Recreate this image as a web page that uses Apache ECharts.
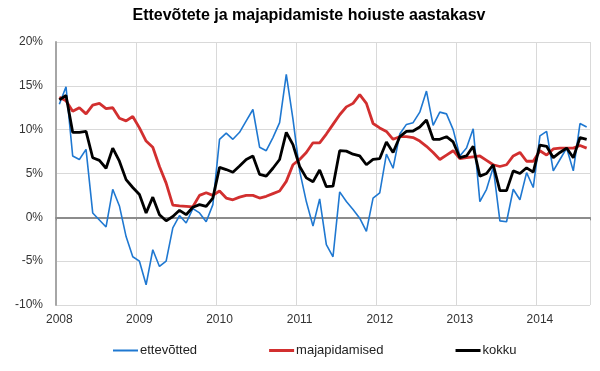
<!DOCTYPE html>
<html>
<head>
<meta charset="utf-8">
<script src="https://cdn.jsdelivr.net/npm/echarts@6/dist/echarts.min.js"></script>
<style>html,body{margin:0;padding:0;background:#fff}#c{width:600px;height:371px}</style>
</head>
<body>
<div id="c"></div>
<script>
var startYear = 2008;
var monthCount = 80; // 2008-01 .. 2014-08
var yTicks = [-10, -5, 0, 5, 10, 15, 20];

var ettevotted = [
  12.9, 14.9, 7.0, 6.6, 7.75, 0.5, -0.3, -1.1, 3.2, 1.3, -2.2, -4.5,
  -5.0, -7.7, -3.7, -5.6, -5.0, -1.2, 0.2, -0.65, 1.0, 0.5, -0.5, 1.45,
  8.9, 9.6, 8.9, 9.7, 11.0, 12.3, 8.0, 7.6, 9.1, 10.8, 16.3, 11.2,
  5.3, 1.8, -1.0, 2.1, -3.1, -4.5, 2.9, 1.8, 0.9, -0.1, -1.6, 2.2,
  2.8, 7.2, 5.6, 9.5, 10.6, 10.8, 12.0, 14.4, 10.5, 12.0, 11.8, 10.0,
  7.0, 7.9, 10.1, 1.8, 3.2, 5.7, -0.4, -0.5, 3.2, 2.0, 5.1, 3.4,
  9.3, 9.8, 5.3, 6.6, 7.9, 5.3, 10.7, 10.3
];
var majapidamised = [
  13.7, 13.3, 12.1, 12.5, 11.8, 12.8, 13.0, 12.4, 12.5, 11.3, 11.0, 11.5,
  10.2, 8.7, 8.0, 5.8, 3.9, 1.4, 1.3, 1.25, 1.2, 2.5, 2.8, 2.5,
  3.0, 2.2, 2.0, 2.3, 2.5, 2.5, 2.2, 2.4, 2.7, 3.0, 4.1, 6.0,
  6.6, 7.4, 8.5, 8.5, 9.5, 10.6, 11.7, 12.6, 13.0, 14.0, 13.0, 10.7,
  10.2, 9.8, 8.9, 9.2, 9.2, 9.1, 8.7, 8.1, 7.4, 6.6, 7.1, 7.6,
  6.7, 6.8, 6.9, 7.0, 6.5, 6.0, 5.8, 6.0, 7.0, 7.4, 6.4, 6.4,
  7.6, 7.1, 7.8, 7.9, 7.9, 7.9, 8.2, 7.9
];
var kokku = [
  13.4, 13.9, 9.7, 9.7, 9.8, 6.8, 6.5, 5.6, 7.9, 6.4, 4.3, 3.4,
  2.6, 0.5, 2.3, 0.3, -0.4, 0.1, 0.8, 0.3, 1.15, 1.45, 1.25, 2.2,
  5.7, 5.45, 5.15, 5.85, 6.6, 7.0, 4.9, 4.7, 5.6, 6.6, 9.7, 8.3,
  5.8, 4.5, 4.05, 5.4, 3.5, 3.55, 7.6, 7.55, 7.2, 7.0, 6.0, 6.6,
  6.7, 8.6, 7.4, 9.2, 9.8, 9.85, 10.3, 11.1, 8.9, 8.9, 9.2, 8.6,
  6.8, 7.0, 8.1, 4.7, 5.0, 6.0, 3.05, 3.05, 5.3, 5.0, 5.65, 5.15,
  8.25, 8.1, 6.8, 7.4, 7.9, 6.8, 9.1, 8.9
];
var seriesNames = ['ettevõtted', 'majapidamised', 'kokku'];

var months = [];
for (var i = 0; i < monthCount; i++) {
  var y = startYear + Math.floor(i / 12);
  var m = (i % 12) + 1;
  months.push(y + '-' + (m < 10 ? '0' + m : m));
}

var chart = echarts.init(document.getElementById('c'), null, {renderer: 'canvas'});
var font = 'Liberation Sans, Arial, sans-serif';
chart.setOption({
  animation: false,
  backgroundColor: '#fff',
  title: {
    text: 'Ettevõtete ja majapidamiste hoiuste aastakasv',
    left: 309,
    top: 8,
    textAlign: 'center',
    padding: 0,
    textStyle: {fontFamily: font, fontSize: 16, fontWeight: 'bold', color: '#000'}
  },
  legend: {
    left: 108,
    top: 339,
    itemGap: 72,
    itemWidth: 25,
    itemHeight: 14,
    textStyle: {fontFamily: font, fontSize: 13, color: '#222', padding: [0, 0, 0, -3]},
    data: [
      {name: seriesNames[0], icon: 'path://M0,0 L25,0 L25,2 L0,2 Z'},
      {name: seriesNames[1], icon: 'path://M0,0 L25,0 L25,3 L0,3 Z'},
      {name: seriesNames[2], icon: 'path://M0,0 L25,0 L25,3 L0,3 Z'}
    ]
  },
  grid: {left: 56, right: 10, top: 42, bottom: 66, containLabel: false},
  xAxis: [{
    type: 'category',
    data: months,
    boundaryGap: true,
    position: 'bottom',
    axisLine: {show: false, onZero: false},
    axisTick: {show: false},
    axisLabel: {
      interval: 11,
      margin: 9,
      fontFamily: font, fontSize: 12, color: '#333',
      formatter: function (v) { return v.slice(0, 4); }
    },
    splitLine: {show: true, interval: 11, lineStyle: {color: '#d9d9d9', width: 1}}
  }, {
    type: 'category',
    data: months,
    boundaryGap: true,
    position: 'top',
    axisLine: {show: true, onZero: true, lineStyle: {color: '#8c8c8c', width: 2}},
    axisTick: {show: true, interval: 11, inside: true, length: 3, lineStyle: {color: '#8c8c8c'}},
    axisLabel: {show: false},
    splitLine: {show: false}
  }],
  yAxis: {
    type: 'value',
    min: yTicks[0],
    max: yTicks[yTicks.length - 1],
    interval: 5,
    axisLine: {show: true, lineStyle: {color: '#a6a6a6', width: 2}},
    axisTick: {show: false},
    axisLabel: {
      margin: 13,
      fontFamily: font, fontSize: 12, color: '#333',
      formatter: '{value}%'
    },
    splitLine: {show: true, lineStyle: {color: '#d9d9d9', width: 1}}
  },
  series: [{
    name: seriesNames[0], type: 'line', data: ettevotted,
    symbol: 'none', showSymbol: false,
    lineStyle: {color: '#1f78d1', width: 1.6},
    itemStyle: {color: '#1f78d1'}, z: 2
  }, {
    name: seriesNames[1], type: 'line', data: majapidamised,
    symbol: 'none', showSymbol: false,
    lineStyle: {color: '#d22f2f', width: 2.8},
    itemStyle: {color: '#d22f2f'}, z: 3
  }, {
    name: seriesNames[2], type: 'line', data: kokku,
    symbol: 'none', showSymbol: false,
    lineStyle: {color: '#000000', width: 2.8},
    itemStyle: {color: '#000000'}, z: 4
  }]
});
</script>
</body>
</html>
